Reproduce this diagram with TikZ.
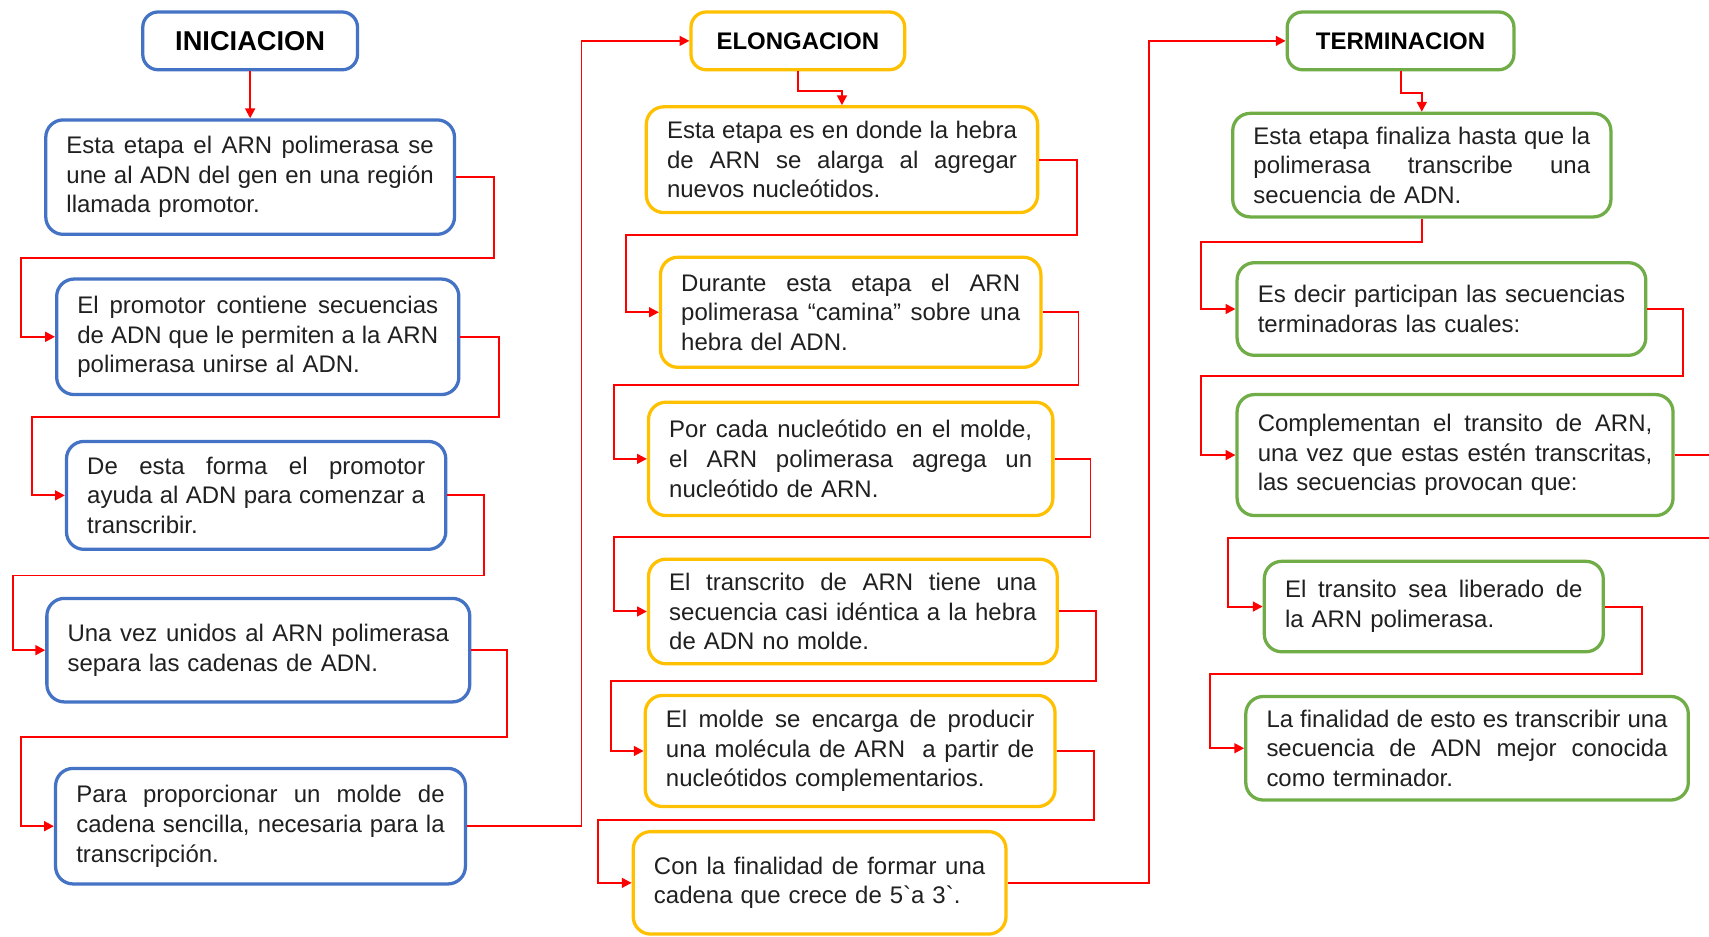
\documentclass[tikz,border=0pt]{standalone}
\usepackage{fontspec}
\setmainfont{Liberation Sans}[Ligatures=TeXOff]
\usetikzlibrary{arrows.meta}
\definecolor{cblue}{HTML}{4472C4}
\definecolor{cgold}{HTML}{FFC000}
\definecolor{cgreen}{HTML}{70AD47}
\definecolor{cred}{HTML}{FF0000}
\definecolor{ctext}{HTML}{202020}
\newcommand{\tl}[1]{\makebox[\hsize][s]{\spaceskip=0pt\xspaceskip=0pt #1}}
\begin{document}
\begin{tikzpicture}[x=0.5pt,y=-0.5pt,
  box/.style={draw=#1, line width=1.5pt, rounded corners=8pt, fill=white, text=ctext,
    align=left, inner xsep=9.5pt, inner ysep=2pt,
    font=\fontsize{11}{13.6}\selectfont, execute at begin node={\parindent=0pt}},
  ttl/.style={draw=#1, line width=1.5pt, rounded corners=7pt, fill=white, text=black,
    font=\bfseries\fontsize{11}{13}\selectfont, minimum height=26.5pt, inner sep=0pt},
  conn/.style={draw=cred, line width=0.9pt, -{Triangle[length=4.5pt,width=4.5pt]}},
]
\fill[white] (0,0) rectangle (1568,859);
\useasboundingbox (0,0) rectangle (1568,859);

% ---------- INICIACION ----------
\node[ttl=cblue, minimum width=98.5pt, font=\bfseries\fontsize{12.5}{14}\selectfont] (ini) at (229.5,37.5) {INICIACION};
\node[box=cblue, text width=168.5pt, minimum height=52.5pt] (b1) at (229.5,162.5)
  {\tl{Esta etapa el ARN polimerasa se}\\\tl{une al ADN del gen en una región}\\llamada promotor.};
\node[box=cblue, text width=165.5pt, minimum height=53pt] (b2) at (236.5,309)
  {\tl{El promotor contiene secuencias}\\\tl{de ADN que le permiten a la ARN}\\polimerasa unirse al ADN.};
\node[box=cblue, text width=155pt, minimum height=49.5pt] (b3) at (235,454.5)
  {\tl{De esta forma el promotor}\\\tl{ayuda al ADN para comenzar a}\\transcribir.};
\node[box=cblue, text width=175pt, minimum height=47.5pt] (b4) at (237,596.5)
  {\tl{Una vez unidos al ARN polimerasa}\\separa las cadenas de ADN.};
\node[box=cblue, text width=169pt, minimum height=53pt] (b5) at (239,758)
  {\tl{Para proporcionar un molde de}\\\tl{cadena sencilla, necesaria para la}\\transcripción.};

% ---------- ELONGACION ----------
\node[ttl=cgold, minimum width=98pt] (elong) at (732,37.5) {ELONGACION};
\node[box=cgold, text width=160.5pt, minimum height=48.5pt] (y1) at (772.5,146.5)
  {\tl{Esta etapa es en donde la hebra}\\\tl{de ARN se alarga al agregar}\\nuevos nucleótidos.};
\node[box=cgold, text width=155.5pt, minimum height=50.5pt] (y2) at (780.5,286.5)
  {\tl{Durante esta etapa el ARN}\\\tl{polimerasa “camina” sobre una}\\hebra del ADN.};
\node[box=cgold, text width=166.5pt, minimum height=52pt] (y3) at (780.5,421)
  {\tl{Por cada nucleótido en el molde,}\\\tl{el ARN polimerasa agrega un}\\nucleótido de ARN.};
\node[box=cgold, text width=168.5pt, minimum height=48pt] (y4) at (782.5,561)
  {\tl{El transcrito de ARN tiene una}\\\tl{secuencia casi idéntica a la hebra}\\de ADN no molde.};
\node[box=cgold, text width=169pt, minimum height=51pt] (y5) at (780,689)
  {\tl{El molde se encarga de producir}\\\tl{una molécula de ARN\ \ a partir de}\\nucleótidos complementarios.};
\node[box=cgold, text width=152pt, minimum height=47pt] (y6) at (752,810)
  {\tl{Con la finalidad de formar una}\\cadena que crece de 5`a 3`.};

% ---------- TERMINACION ----------
\node[ttl=cgreen, minimum width=104pt] (term) at (1285,37.5) {TERMINACION};
\node[box=cgreen, text width=154.5pt, minimum height=47.5pt] (g1) at (1304.5,151.5)
  {\tl{Esta etapa finaliza hasta que la}\\\tl{polimerasa transcribe una}\\secuencia de ADN.};
\node[box=cgreen, text width=168.5pt, minimum height=42.5pt] (g2) at (1322.5,283.5)
  {\tl{Es decir participan las secuencias}\\terminadoras las cuales:};
\node[box=cgreen, text width=181pt, minimum height=55.5pt] (g3) at (1335,417.5)
  {\tl{Complementan el transito de ARN,}\\\tl{una vez que estas estén transcritas,}\\las secuencias provocan que:};
\node[box=cgreen, text width=136.5pt, minimum height=41.5pt] (g4) at (1315.5,556.5)
  {\tl{El transito sea liberado de}\\la ARN polimerasa.};
\node[box=cgreen, text width=184pt, minimum height=47.5pt] (g5) at (1346,686.5)
  {\tl{La finalidad de esto es transcribir una}\\\tl{secuencia de ADN mejor conocida}\\como terminador.};

% ---------- connectors ----------
\draw[conn] (ini.south) -- (b1.north);
\draw[conn] (b1.east) -- ++(35,0) |- (19,237) |- (b2.west);
\draw[conn] (b2.east) -- ++(35,0) |- (29,383) |- (b3.west);
\draw[conn] (b3.east) -- ++(34,0) |- (12,528) |- (b4.west);
\draw[conn] (b4.east) -- ++(33,0) |- (19,676) |- (b5.west);
\draw[conn] (b5.east) -- ++(105,0) |- (elong.west);

\draw[conn] (elong.south) -- ++(0,18) -| (y1.north);
\draw[conn] (y1.east) -- ++(35,0) |- (574,216) |- (y2.west);
\draw[conn] (y2.east) -- ++(33,0) |- (563,353) |- (y3.west);
\draw[conn] (y3.east) -- ++(33,0) |- (563,493) |- (y4.west);
\draw[conn] (y4.east) -- ++(34,0) |- (561,625) |- (y5.west);
\draw[conn] (y5.east) -- ++(34,0) |- (549,752) |- (y6.west);
\draw[conn] (y6.east) -- ++(130,0) |- (term.west);

\draw[conn] (term.south) -- ++(0,20) -| (g1.north);
\draw[conn] (g1.south) |- (1102,222) |- (g2.west);
\draw[conn] (g2.east) -- ++(33,0) |- (1102,345) |- (g3.west);
\draw[conn] (g3.east) -- ++(36,0) |- (1127,494) |- (g4.west);
\draw[conn] (g4.east) -- ++(34,0) |- (1110,618) |- (g5.west);
\end{tikzpicture}
\end{document}
